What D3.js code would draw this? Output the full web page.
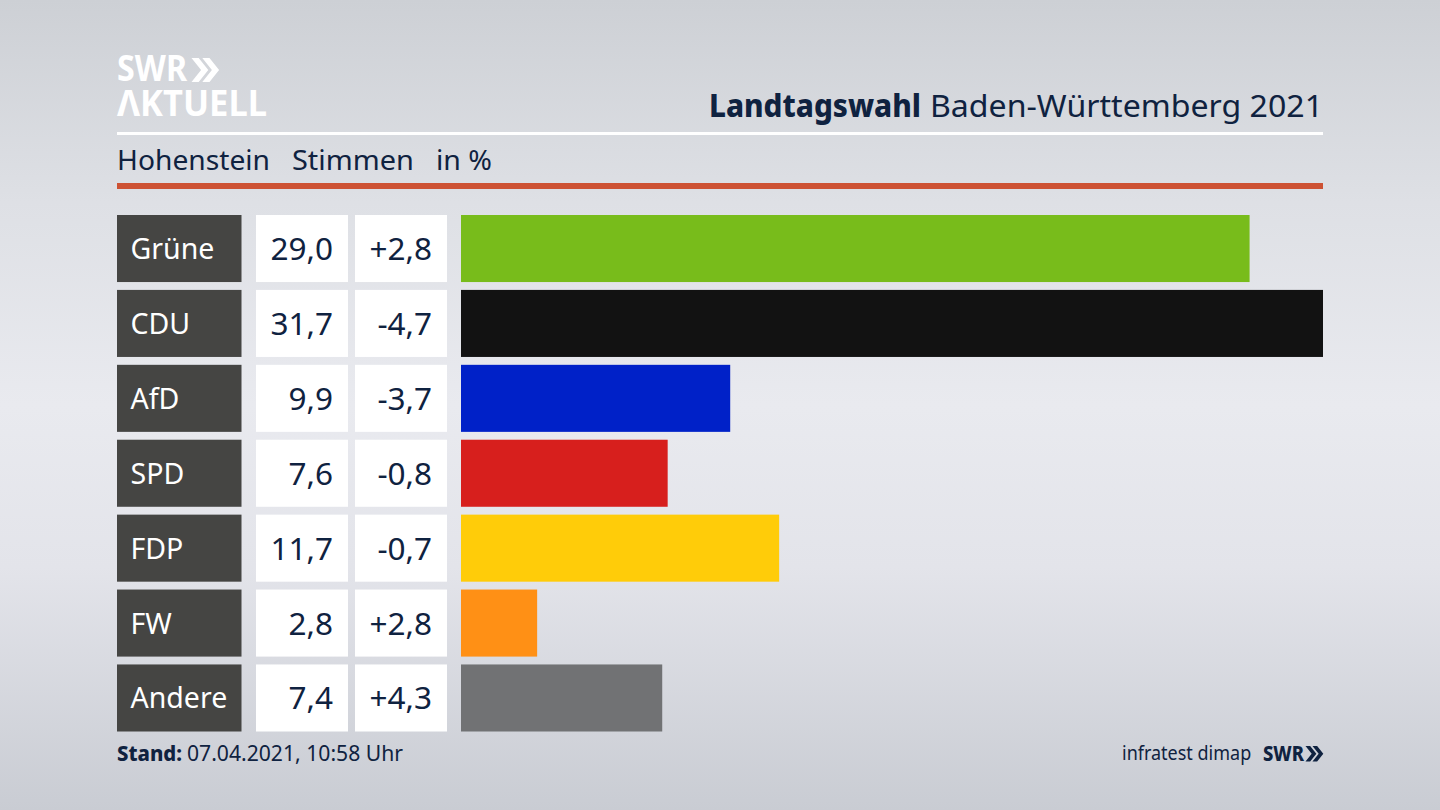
<!DOCTYPE html>
<html lang="de">
<head>
<meta charset="utf-8">
<script src="https://cdn.jsdelivr.net/npm/d3@7"></script>
<style>
  html, body { margin: 0; padding: 0; overflow: hidden; }
  svg { display: block; }
  text { font-family: "Noto Sans", sans-serif; }
</style>
</head>
<body>
<div id="chart"></div>
<script>
const parties = ['Grüne', 'CDU', 'AfD', 'SPD', 'FDP', 'FW', 'Andere'];
const shares = [29.0, 31.7, 9.9, 7.6, 11.7, 2.8, 7.4];
const changes = [2.8, -4.7, -3.7, -0.8, -0.7, 2.8, 4.3];
const barColors = ['#78bc1b', '#121212', '#0021c8', '#d71f1d', '#ffcc09', '#ff9015', '#717274'];

const navy = '#0f2240';
const comma = v => Math.abs(v).toFixed(1).replace('.', ',');
const fmtShare = v => comma(v);
const fmtChange = v => (v > 0 ? '+' : '-') + comma(v);

const svg = d3.select('#chart').append('svg')
  .attr('width', 1440)
  .attr('height', 810)
  .attr('viewBox', '0 0 1440 810');

// Background: light band through the middle, darker to the top and bottom
const defs = svg.append('defs');
const bg = defs.append('linearGradient')
  .attr('id', 'bg').attr('x1', 0).attr('y1', 0).attr('x2', 0).attr('y2', 1);
[[0, '#cdd0d5'], [0.25, '#dee0e5'], [0.5, '#e9eaef'], [0.7, '#e3e4ea'], [1, '#c9ccd3']]
  .forEach(([o, c]) => bg.append('stop').attr('offset', o).attr('stop-color', c));

svg.append('rect').attr('width', 1440).attr('height', 810).attr('fill', 'url(#bg)');

// Header
const chevrons = (g, x, y, h, color) => {
  const w = h * 0.4;
  const t = h * 0.3;
  [0, h * 0.45].forEach(dx => {
    const x0 = x + dx;
    g.append('path')
      .attr('d', `M${x0},${y}h${t}l${w},${h / 2}l${-w},${h / 2}h${-t}l${w},${-h / 2}z`)
      .attr('fill', color);
  });
};

svg.append('text').attr('x', 117).attr('y', 81)
  .attr('font-size', 35).attr('font-weight', 700).attr('fill', '#fff')
  .attr('textLength', 70).attr('lengthAdjust', 'spacingAndGlyphs')
  .text('SWR');
chevrons(svg, 191.5, 58, 24, '#fff');
svg.append('text').attr('x', 117).attr('y', 115.5)
  .attr('font-size', 35).attr('font-weight', 700).attr('fill', '#fff')
  .attr('textLength', 150).attr('lengthAdjust', 'spacingAndGlyphs')
  .text('ΛKTUELL');

svg.append('text').attr('x', 709).attr('y', 117)
  .attr('font-size', 31.5).attr('font-weight', 800).attr('fill', navy)
  .attr('textLength', 212).attr('lengthAdjust', 'spacingAndGlyphs')
  .text('Landtagswahl');
svg.append('text').attr('x', 930).attr('y', 117)
  .attr('font-size', 31.5).attr('fill', navy)
  .attr('textLength', 393).attr('lengthAdjust', 'spacingAndGlyphs')
  .text('Baden-Württemberg 2021');

svg.append('rect').attr('x', 117).attr('y', 132).attr('width', 1206).attr('height', 3).attr('fill', '#fff');

const subtitle = [['Hohenstein', 117, 153], ['Stimmen', 292, 122], ['in %', 436, 56]];
svg.selectAll('.sub').data(subtitle).enter().append('text')
  .attr('class', 'sub')
  .attr('x', d => d[1]).attr('y', 170)
  .attr('font-size', 28).attr('fill', navy)
  .attr('textLength', d => d[2]).attr('lengthAdjust', 'spacingAndGlyphs')
  .text(d => d[0]);

svg.append('rect').attr('x', 117).attr('y', 183).attr('width', 1206).attr('height', 6).attr('fill', '#cd5234');

// Rows
const y = d3.scaleBand().domain(parties).range([215, 731.5]).paddingInner(0.105);
const x = d3.scaleLinear().domain([0, d3.max(shares)]).range([461, 1323]);

const rows = svg.selectAll('.row').data(parties).enter().append('g')
  .attr('class', 'row')
  .attr('transform', d => `translate(0,${y(d)})`);

rows.append('rect').attr('x', 117).attr('width', 124.5).attr('height', y.bandwidth()).attr('fill', '#454543');
rows.append('rect').attr('x', 256).attr('width', 92).attr('height', y.bandwidth()).attr('fill', '#fff');
rows.append('rect').attr('x', 355).attr('width', 92).attr('height', y.bandwidth()).attr('fill', '#fff');

rows.append('rect')
  .attr('x', x(0))
  .attr('width', (d, i) => x(shares[i]) - x(0))
  .attr('height', y.bandwidth())
  .attr('fill', (d, i) => barColors[i]);

rows.append('text').attr('x', 130.5).attr('y', y.bandwidth() / 2 + 10.5)
  .attr('font-size', 28.5).attr('fill', '#fff')
  .text(d => d);

rows.append('text').attr('x', 333).attr('y', y.bandwidth() / 2 + 11.5)
  .attr('text-anchor', 'end').attr('font-size', 31.5).attr('fill', navy)
  .text((d, i) => fmtShare(shares[i]));

rows.append('text').attr('x', 432).attr('y', y.bandwidth() / 2 + 11.5)
  .attr('text-anchor', 'end').attr('font-size', 31.5).attr('fill', navy)
  .text((d, i) => fmtChange(changes[i]));

// Footer
svg.append('text').attr('x', 117).attr('y', 761)
  .attr('font-size', 21.5).attr('font-weight', 800).attr('fill', navy)
  .attr('textLength', 65).attr('lengthAdjust', 'spacingAndGlyphs')
  .text('Stand:');
svg.append('text').attr('x', 187).attr('y', 761)
  .attr('font-size', 21.5).attr('fill', navy)
  .attr('textLength', 216).attr('lengthAdjust', 'spacingAndGlyphs')
  .text('07.04.2021, 10:58 Uhr');

// Condensed with a transform so the text box ends before the SWR mark
svg.append('text')
  .attr('transform', 'translate(1122,760) scale(0.878,1)')
  .attr('font-size', 20.5).attr('fill', navy)
  .text('infratest dimap');
svg.append('text').attr('x', 1263).attr('y', 761)
  .attr('font-size', 21).attr('font-weight', 800).attr('fill', navy)
  .attr('textLength', 41).attr('lengthAdjust', 'spacingAndGlyphs')
  .text('SWR');
chevrons(svg, 1305.5, 746, 15.5, navy);
</script>
</body>
</html>
